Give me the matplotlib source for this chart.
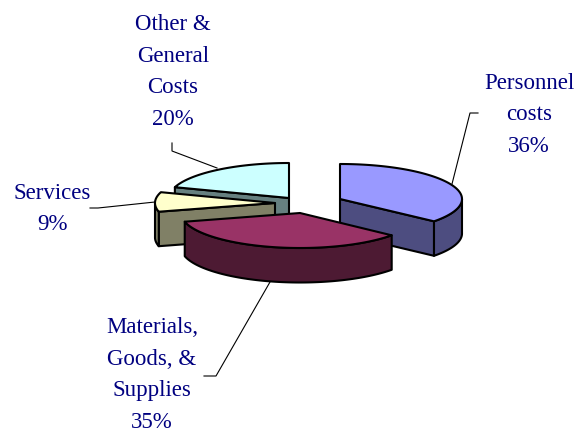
import numpy as np
import matplotlib
matplotlib.use("Agg")
import matplotlib.pyplot as plt

# Data
categories = ["Personnel\ncosts", "Materials,\nGoods, &\nSupplies", "Services", "Other &\nGeneral\nCosts"]
values = [36, 35, 9, 20]

# Style and layout
top_colors = ["#9999FF", "#993366", "#FFFFCC", "#CCFFFF"]
side_colors = ["#4D4D80", "#4D1A33", "#808066", "#668080"]
text_pos = [(529, 115), (152, 375), (52, 209), (173, 72)]
leaders = [[(478, 113), (470, 113), (452, 184)],
           [(204, 376), (216, 376), (270, 282)],
           [(90, 208), (98, 208), (155, 202)],
           [(172, 143), (172, 151), (217, 168)]]
slice_centres = [(340, 199), (300, 213), (275, 203), (289, 198)]
slice_radii = [122, 119, 120, 120]
RY, DEPTH = 35.0, 34.5
EDGE = 1.5
draw_order = [3, 2, 0, 1]

plt.rcParams["font.family"] = ["Liberation Serif", "DejaVu Serif"]
fig = plt.figure(figsize=(5.86, 4.32), dpi=100)
ax = fig.add_axes([0, 0, 1, 1])
ax.set_xlim(0, 586)
ax.set_ylim(432, 0)
ax.axis("off")

fractions = np.array(values, dtype=float) / np.sum(values)
edges = np.concatenate([[0], np.cumsum(fractions) * 2 * np.pi])


def rim(cx, cy, rx, a):
    return np.column_stack([cx + rx * np.sin(a), cy - RY * np.cos(a)])


def face(pts, color, z):
    ax.fill(pts[:, 0], pts[:, 1], facecolor=color, edgecolor="black",
            linewidth=EDGE, joinstyle="round", zorder=z)


for z, i in enumerate(draw_order):
    a0, a1 = edges[i], edges[i + 1]
    cx, cy = slice_centres[i]
    rx = slice_radii[i]
    centre = np.array([[cx, cy]], dtype=float)
    drop = np.array([0, DEPTH])
    z0 = 2 + z * 3
    # cut faces that look towards the viewer
    for a, visible in ((a0, a0 > np.pi), (a1, a1 < np.pi)):
        if visible:
            p = rim(cx, cy, rx, np.array([a]))
            pts = np.vstack([centre, p, p + drop, centre + drop])
            face(pts, side_colors[i], z0)
    # outer wall, front half only
    lo, hi = max(a0, np.pi / 2), min(a1, 1.5 * np.pi)
    if hi > lo:
        t = np.linspace(lo, hi, 80)
        up = rim(cx, cy, rx, t)
        face(np.vstack([up, (up + drop)[::-1]]), side_colors[i], z0 + 1)
    # top face
    t = np.linspace(a0, a1, 160)
    face(np.vstack([centre, rim(cx, cy, rx, t)]), top_colors[i], z0 + 2)

for name, v, (x, y), line in zip(categories, values, text_pos, leaders):
    ax.text(x, y, f"{name}\n{v}%", ha="center", va="center", fontsize=16.5,
            color="#000080", linespacing=1.67, zorder=30)
    xs, ys = zip(*line)
    ax.plot(xs, ys, color="black", lw=0.8, zorder=1)

fig.savefig("out.png", dpi=100)
